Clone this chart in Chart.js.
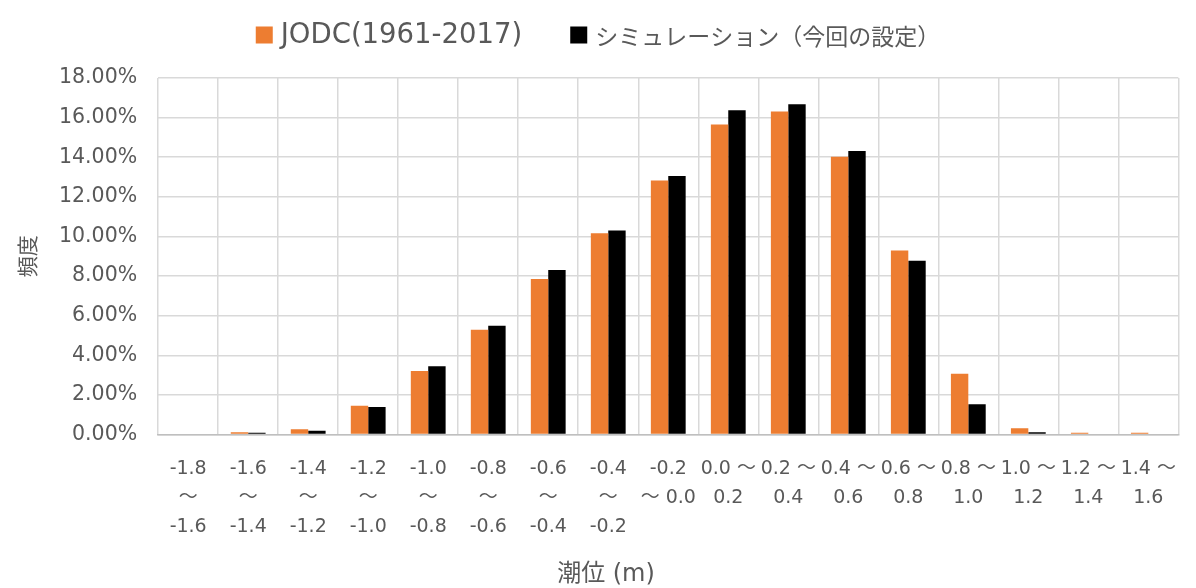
<!DOCTYPE html>
<html>
<head>
<meta charset="utf-8">
<script src="https://cdn.jsdelivr.net/npm/chart.js@4/dist/chart.umd.min.js"></script>
<style>
  body { margin: 0; background: #fff; }
  #wrap { width: 1196px; height: 588px; }
</style>
</head>
<body>
<div id="wrap"><canvas id="tideChart"></canvas></div>
<script>
// 潮位階級 (m) ごとの出現頻度 [%]
const tideClasses = [
  ['-1.8', '～', '-1.6'],
  ['-1.6', '～', '-1.4'],
  ['-1.4', '～', '-1.2'],
  ['-1.2', '～', '-1.0'],
  ['-1.0', '～', '-0.8'],
  ['-0.8', '～', '-0.6'],
  ['-0.6', '～', '-0.4'],
  ['-0.4', '～', '-0.2'],
  ['-0.2', '～ 0.0'],
  ['0.0 ～', '0.2'],
  ['0.2 ～', '0.4'],
  ['0.4 ～', '0.6'],
  ['0.6 ～', '0.8'],
  ['0.8 ～', '1.0'],
  ['1.0 ～', '1.2'],
  ['1.2 ～', '1.4'],
  ['1.4 ～', '1.6']
];

const jodcFreq = [0, 0.12, 0.27, 1.46, 3.21, 5.29, 7.86, 10.16, 12.83, 15.65, 16.31, 14.02, 9.29, 3.07, 0.32, 0.1, 0.1];
const simFreq  = [0, 0.10, 0.20, 1.39, 3.45, 5.49, 8.31, 10.30, 13.05, 16.37, 16.68, 14.31, 8.77, 1.53, 0.12, 0, 0];

const yTicks = [0, 2, 4, 6, 8, 10, 12, 14, 16, 18];

const textColor = '#595959';
const gridColor = '#d9d9d9';
const latinFont = '"DejaVu Sans", "Noto Sans CJK JP", sans-serif';
const cjkFont = '"Noto Sans CJK JP", "DejaVu Sans", sans-serif';

// Legend drawn by hand so each entry can use its own font
const topLegend = {
  id: 'topLegend',
  afterDraw(chart, args, opts) {
    const c = chart.ctx;
    const items = chart.data.datasets.map((ds, i) => {
      const font = opts.fonts[i];
      c.font = font;
      return { text: ds.label, color: ds.backgroundColor, font: font, w: c.measureText(ds.label).width };
    });
    const box = opts.boxSize, gap = opts.textGap, itemGap = opts.itemGap;
    let total = 0;
    items.forEach((it, i) => { total += box + gap + it.w + (i ? itemGap : 0); });
    let x = (chart.width - total) / 2;
    c.save();
    c.textBaseline = 'middle';
    c.textAlign = 'left';
    items.forEach(it => {
      c.fillStyle = it.color;
      c.fillRect(x, opts.y - box / 2, box, box);
      x += box + gap;
      c.font = it.font;
      c.fillStyle = textColor;
      c.fillText(it.text, x, opts.y + 1);
      x += it.w + itemGap;
    });
    c.restore();
  }
};

const ctx = document.getElementById('tideChart').getContext('2d');

new Chart(ctx, {
  type: 'bar',
  data: {
    labels: tideClasses,
    datasets: [{
      label: 'JODC(1961-2017)',
      data: jodcFreq,
      backgroundColor: '#ED7D31'
    }, {
      label: 'シミュレーション（今回の設定）',
      data: simFreq,
      backgroundColor: '#000000'
    }]
  },
  plugins: [topLegend],
  options: {
    responsive: true,
    maintainAspectRatio: false,
    animation: false,
    layout: {
      padding: { top: 78, right: 1, left: 17, bottom: 0 }
    },
    datasets: {
      bar: {
        categoryPercentage: 0.58,
        barPercentage: 1.0
      }
    },
    plugins: {
      legend: { display: false },
      tooltip: { enabled: false },
      topLegend: {
        y: 35,
        boxSize: 17,
        textGap: 8,
        itemGap: 48,
        fonts: ['27.5px ' + latinFont, '23px ' + cjkFont]
      },
      title: {
        display: true,
        position: 'bottom',
        text: '潮位 (m)',
        color: textColor,
        padding: { top: 0, bottom: 0 },
        font: { family: latinFont, size: 24, weight: 'normal', lineHeight: 1.1 }
      }
    },
    scales: {
      x: {
        grid: {
          color: gridColor,
          lineWidth: 1.5,
          drawTicks: false,
          offset: true
        },
        border: { color: '#bfbfbf', width: 1.5 },
        ticks: {
          color: textColor,
          autoSkip: false,
          maxRotation: 0,
          padding: 20,
          font: { family: latinFont, size: 19, lineHeight: 1.526 }
        }
      },
      y: {
        min: 0,
        max: 18,
        afterBuildTicks: function(axis) {
          axis.ticks = yTicks.map(v => ({ value: v }));
        },
        grid: {
          color: gridColor,
          lineWidth: 1.5,
          drawTicks: false
        },
        border: { display: false },
        ticks: {
          color: textColor,
          padding: 21,
          font: { family: latinFont, size: 20.5 },
          callback: function(value) {
            return value.toFixed(2) + '%';
          }
        },
        title: {
          display: true,
          text: '頻度',
          color: textColor,
          padding: 0,
          font: { family: cjkFont, size: 21, lineHeight: 1 }
        }
      }
    }
  }
});
</script>
</body>
</html>
